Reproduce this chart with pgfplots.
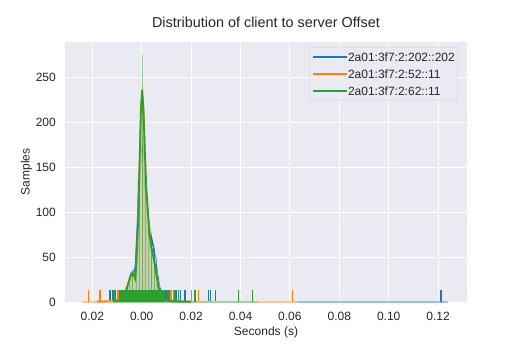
\documentclass[border=0pt]{standalone}
\usepackage{fontspec}
\setmainfont{Liberation Sans}
\usepackage{pgfplots}
\pgfplotsset{compat=1.18}

\definecolor{tabblue}{RGB}{31,119,180}
\definecolor{taborange}{RGB}{255,127,14}
\definecolor{tabgreen}{RGB}{44,160,44}
\definecolor{sbbg}{RGB}{234,234,242}
\definecolor{sbtext}{RGB}{38,38,38}
\definecolor{legedge}{RGB}{204,204,204}

\begin{document}
\begin{tikzpicture}
\path[use as bounding box] (-65bp,-44bp) rectangle (454bp,302bp);
\begin{axis}[
  scale only axis,
  width=402bp, height=260bp,
  xmin=-0.03105, xmax=0.1317,
  ymin=0, ymax=289,
  scaled x ticks=false, scaled y ticks=false,
  xtick={-0.02,0,0.02,0.04,0.06,0.08,0.10,0.12},
  xticklabels={0.02,0.00,0.02,0.04,0.06,0.08,0.10,0.12},
  ytick={0,50,100,150,200,250},
  yticklabels={0,50,100,150,200,250},
  xticklabel style={font=\fontsize{12bp}{14bp}\selectfont, text=sbtext,
                    anchor=base, inner sep=0pt, yshift=-18.7bp},
  yticklabel style={font=\fontsize{12bp}{14bp}\selectfont, text=sbtext,
                    anchor=east, inner sep=0pt, xshift=-9bp},
  axis line style={draw=none},
  tick style={draw=none},
  grid=major,
  major grid style={white, line width=1bp},
  axis background/.style={fill=sbbg},
  title={Distribution of client to server Offset},
  title style={at={(axis description cs:0.5,1.0346)}, anchor=base,
               font=\fontsize{14.4bp}{17bp}\selectfont, text=sbtext, inner sep=0pt},
  xlabel={Seconds (s)},
  xlabel style={at={(axis description cs:0.5,-0.1288)}, anchor=base,
                font=\fontsize{12bp}{14bp}\selectfont, text=sbtext, inner sep=0pt},
  ylabel={Samples},
  ylabel style={at={(axis description cs:-0.0883,0.5)}, anchor=base,
                font=\fontsize{12bp}{14bp}\selectfont, text=sbtext, inner sep=0pt},
  legend style={at={(axis description cs:0.9776,0.981)}, anchor=north east,
                fill=sbbg, fill opacity=0.8, text opacity=1, draw=legedge,
                rounded corners=2bp, inner xsep=3bp, inner ysep=5.5bp,
                font=\fontsize{12bp}{14bp}\selectfont, text=sbtext,
                row sep=8.4bp,
                nodes={inner sep=0pt, text height=8.6bp, text depth=0pt}},
  legend cell align=left,
  legend image code/.code={\draw[#1] (0bp,0bp) -- (25bp,0bp);
                           \path (0bp,0bp) -- (34bp,0bp);},
]

\addlegendimage{tabblue, line width=1.5bp}
\addlegendentry{2a01:3f7:2:202::202}
\addlegendimage{taborange, line width=1.5bp}
\addlegendentry{2a01:3f7:2:52::11}
\addlegendimage{tabgreen, line width=1.5bp}
\addlegendentry{2a01:3f7:2:62::11}

% ---- 2a01:3f7:2:202::202 ----
\addplot[ybar interval, fill=tabblue, draw=white, line width=0.6bp,
         opacity=0.4, forget plot] coordinates {
  (-0.0090,2) (-0.0081,4) (-0.0072,6) (-0.0063,10) (-0.0054,20)
  (-0.0045,30) (-0.0036,35) (-0.0027,60) (-0.0018,134) (-0.0009,170)
  (0.0000,185) (0.0009,150) (0.0018,116) (0.0027,80) (0.0036,70)
  (0.0045,60) (0.0054,50) (0.0063,30) (0.0072,15) (0.0081,8)
  (0.0090,4) (0.0099,2) (0.0108,0)};
\addplot[tabblue!45, line width=2.4bp, forget plot]
  coordinates {(-0.0170,0) (0.1240,0)};
\addplot[tabblue, line width=1.8bp, forget plot] coordinates {
  (-0.0150,0.3) (-0.0120,0.6) (-0.0090,2) (-0.0075,5) (-0.0062,12)
  (-0.0052,22) (-0.0043,31) (-0.0036,34) (-0.0030,30) (-0.0024,42)
  (-0.0016,90) (-0.0008,145) (-0.0002,170) (0.0003,172) (0.0008,160)
  (0.0014,130) (0.0020,110) (0.0026,95) (0.0032,80) (0.0040,70)
  (0.0048,60) (0.0056,45) (0.0064,28) (0.0072,16) (0.0080,9)
  (0.0090,5) (0.0100,3) (0.0115,1.5) (0.0140,0.5) (0.0200,0.3)};
\addplot[ycomb, tabblue, line width=1.2bp, forget plot] coordinates {
  (-0.0131,13) (-0.0126,13) (-0.0118,13) (-0.0105,13) (-0.0098,13)
  (0.0098,13) (0.0105,13) (0.0142,13) (0.0158,13) (0.0175,13)
  (0.0270,13) (0.0277,13) (0.0300,13) (0.1212,13)};

% ---- 2a01:3f7:2:52::11 ----
\addplot[ybar interval, fill=taborange, draw=white, line width=0.6bp,
         opacity=0.4, forget plot] coordinates {
  (-0.0098,2) (-0.0091,3) (-0.0084,5) (-0.0077,8) (-0.0070,12)
  (-0.0063,16) (-0.0056,22) (-0.0049,28) (-0.0042,32) (-0.0035,30)
  (-0.0028,30) (-0.0021,55) (-0.0014,110) (-0.0007,190) (0.0000,241)
  (0.0007,175) (0.0014,130) (0.0021,100) (0.0028,85) (0.0035,62)
  (0.0042,55) (0.0049,48) (0.0056,32) (0.0063,20) (0.0070,12)
  (0.0077,7) (0.0084,4) (0.0091,2) (0.0098,0)};
\addplot[taborange!45, line width=2.4bp, forget plot]
  coordinates {(-0.0243,0) (0.0633,0)};
\addplot[taborange, line width=1.8bp, forget plot] coordinates {
  (-0.0180,0.4) (-0.0120,1) (-0.0095,3) (-0.0080,6) (-0.0068,11)
  (-0.0058,18) (-0.0048,26) (-0.0040,30) (-0.0033,29) (-0.0027,27)
  (-0.0021,42) (-0.0014,90) (-0.0007,165) (-0.0002,215) (0.0002,232)
  (0.0007,212) (0.0013,160) (0.0019,122) (0.0025,98) (0.0031,76)
  (0.0038,60) (0.0045,52) (0.0052,42) (0.0060,28) (0.0068,17)
  (0.0076,10) (0.0085,5) (0.0095,2.5) (0.0110,1) (0.0140,0.5) (0.0300,0.2)};
\addplot[ycomb, taborange, line width=1.2bp, forget plot] coordinates {
  (-0.0216,13) (-0.0169,13) (-0.0099,13) (-0.0094,13) (-0.0088,13)
  (0.0115,13) (0.0122,13) (0.0128,13) (0.0202,13) (0.0216,13)
  (0.0229,13) (0.0610,13)};

% ---- 2a01:3f7:2:62::11 ----
\addplot[ybar interval, fill=tabgreen, draw=white, line width=0.6bp,
         opacity=0.4, forget plot] coordinates {
  (-0.0090,1) (-0.0084,2) (-0.0078,4) (-0.0072,7) (-0.0066,12)
  (-0.0060,16) (-0.0054,22) (-0.0048,28) (-0.0042,34) (-0.0036,32)
  (-0.0030,26) (-0.0024,36) (-0.0018,70) (-0.0012,120) (-0.0006,200)
  (0.0000,275) (0.0006,200) (0.0012,150) (0.0018,120) (0.0024,100)
  (0.0030,75) (0.0036,62) (0.0042,55) (0.0048,50) (0.0054,36)
  (0.0060,24) (0.0066,14) (0.0072,8) (0.0078,5) (0.0084,3)
  (0.0090,2) (0.0096,1) (0.0102,0)};
\addplot[tabgreen!45, line width=2.4bp, forget plot]
  coordinates {(-0.0140,0) (0.0470,0)};
\addplot[tabgreen, line width=1.8bp, forget plot] coordinates {
  (-0.0110,0.5) (-0.0090,1.5) (-0.0076,4) (-0.0066,10) (-0.0056,19)
  (-0.0046,28) (-0.0038,32) (-0.0032,30) (-0.0027,26) (-0.0022,40)
  (-0.0015,85) (-0.0008,160) (-0.0003,215) (0.0002,236) (0.0007,215)
  (0.0013,165) (0.0019,125) (0.0025,100) (0.0031,78) (0.0038,62)
  (0.0045,54) (0.0052,44) (0.0060,30) (0.0068,17) (0.0076,9)
  (0.0085,4) (0.0095,2) (0.0110,1) (0.0130,0.5) (0.0200,0.2)};
\addplot[ycomb, tabgreen, line width=1.2bp, forget plot] coordinates {
  (-0.0112,13)
  (-0.0090,13) (-0.0086,13) (-0.0082,13) (-0.0078,13) (-0.0074,13)
  (-0.0070,13) (-0.0066,13) (-0.0062,13) (-0.0058,13) (-0.0054,13)
  (-0.0050,13) (-0.0046,13) (-0.0042,13) (-0.0038,13) (-0.0034,13)
  (-0.0030,13) (-0.0026,13) (-0.0022,13) (-0.0018,13) (-0.0014,13)
  (-0.0010,13) (-0.0006,13) (-0.0002,13) (0.0002,13) (0.0006,13)
  (0.0010,13) (0.0014,13) (0.0018,13) (0.0022,13) (0.0026,13)
  (0.0030,13) (0.0034,13) (0.0038,13) (0.0042,13) (0.0046,13)
  (0.0050,13) (0.0054,13) (0.0058,13) (0.0062,13) (0.0066,13)
  (0.0070,13) (0.0074,13) (0.0078,13) (0.0082,13) (0.0086,13)
  (0.0090,13) (0.0103,13) (0.0109,13) (0.0113,13) (0.0135,13)
  (0.0148,13) (0.0216,13) (0.0391,13) (0.0448,13)};

\end{axis}
\end{tikzpicture}
\end{document}
